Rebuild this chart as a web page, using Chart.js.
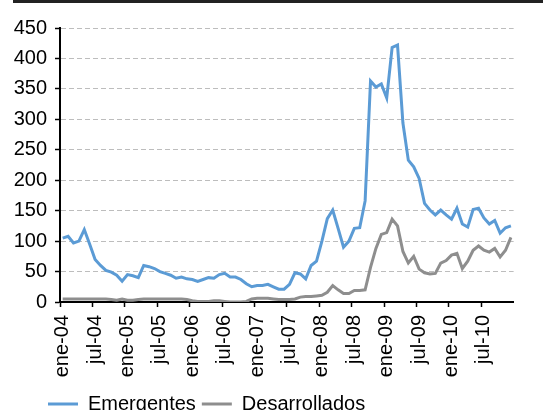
<!DOCTYPE html>
<html>
<head>
<meta charset="utf-8">
<script src="https://cdn.jsdelivr.net/npm/chart.js@4"></script>
<style>
  html, body { margin: 0; padding: 0; overflow: hidden; background: #fff; }
  #wrap { position: absolute; left: 0; top: 0; width: 543px; height: 424px; }
  #topbar { position: absolute; left: 13px; right: 0; top: 0; height: 3px; background: #222; z-index: 2; }
</style>
</head>
<body>
<div id="topbar"></div>
<div id="wrap"><canvas id="c"></canvas></div>
<script>
const monthNames = ['ene','feb','mar','abr','may','jun','jul','ago','sep','oct','nov','dic'];
const years = ['04','05','06','07','08','09','10'];
const categories = [];
years.forEach(y => monthNames.forEach(m => categories.push(m + '-' + y)));

const seriesNames = ['Emergentes', 'Desarrollados'];

const emergentes = [
  105,108,97,100,119,95,70,60,52,49,44,34,
  45,43,40,60,58,55,50,47,44,39,41,38,
  37,34,37,40,39,45,47,41,41,37,30,25,
  27,27,29,25,21,21,29,48,46,38,60,67,
  100,137,151,121,90,100,121,122,166,363,353,358,
  335,418,422,294,233,222,203,162,151,143,151,143,
  136,154,128,123,152,154,138,128,134,113,122,125
];

const desarrollados = [
  5,5,5,5,5,5,5,5,5,4,3,5,
  3,3,4,5,5,5,5,5,5,5,5,4,
  2,1,1,1,2,2,1,0,0,0,1,5,
  6,6,6,5,4,4,4,5,8,9,9,10,
  11,16,27,20,14,14,19,19,20,57,88,111,
  114,136,125,83,64,75,54,48,46,47,64,68,
  77,80,55,67,85,92,85,82,88,74,85,106
];

const yTicks = { min: 0, max: 450, step: 50 };
const labelEvery = 6;

const FONT = '"Liberation Sans", Arial, sans-serif';

const legendShift = {
  id: 'legendShift',
  afterLayout(chart) {
    if (chart.legend) { chart.legend.left = 42; }
  }
};

new Chart(document.getElementById('c'), {
  type: 'line',
  data: {
    labels: categories,
    datasets: [
      { label: seriesNames[0], data: emergentes, borderColor: '#5B9BD5', backgroundColor: '#5B9BD5',
        borderWidth: 3, pointRadius: 0, tension: 0, fill: false },
      { label: seriesNames[1], data: desarrollados, borderColor: '#8E8E8E', backgroundColor: '#8E8E8E',
        borderWidth: 3, pointRadius: 0, tension: 0, fill: false }
    ]
  },
  plugins: [legendShift],
  options: {
    responsive: true,
    maintainAspectRatio: false,
    animation: false,
    devicePixelRatio: 1,
    layout: { padding: { left: 12, right: 12, top: 28, bottom: 0 } },
    plugins: {
      tooltip: { enabled: false },
      legend: {
        position: 'bottom',
        align: 'start',
        labels: {
          usePointStyle: true,
          pointStyle: 'line',
          pointStyleWidth: 30,
          padding: 6,
          color: '#000',
          font: { family: FONT, size: 20 }
        }
      }
    },
    scales: {
      x: {
        type: 'category',
        offset: true,
        afterFit: s => { s.height = 86; },
        border: { display: true, color: '#000', width: 2 },
        grid: {
          offset: true,
          drawOnChartArea: false,
          drawTicks: true,
          tickLength: 5,
          tickWidth: 1.5,
          tickColor: ctx => (ctx.index % labelEvery === 0 ? '#000' : 'rgba(0,0,0,0)')
        },
        ticks: {
          autoSkip: false,
          maxRotation: 90,
          minRotation: 90,
          padding: 8,
          color: '#000',
          font: { family: FONT, size: 20 },
          callback: function (v, i) { return i % labelEvery === 0 ? categories[i] : ''; }
        }
      },
      y: {
        min: yTicks.min,
        max: yTicks.max,
        afterFit: s => { s.width = 48; },
        border: { display: true, color: '#000', width: 2, dash: [5, 3] },
        grid: {
          color: '#BDBDBD',
          lineWidth: 1,
          drawTicks: true,
          tickLength: 5,
          tickColor: '#000',
          tickWidth: 1.5
        },
        ticks: {
          stepSize: yTicks.step,
          padding: 8,
          color: '#000',
          font: { family: FONT, size: 20 }
        }
      }
    }
  }
});
</script>
</body>
</html>
